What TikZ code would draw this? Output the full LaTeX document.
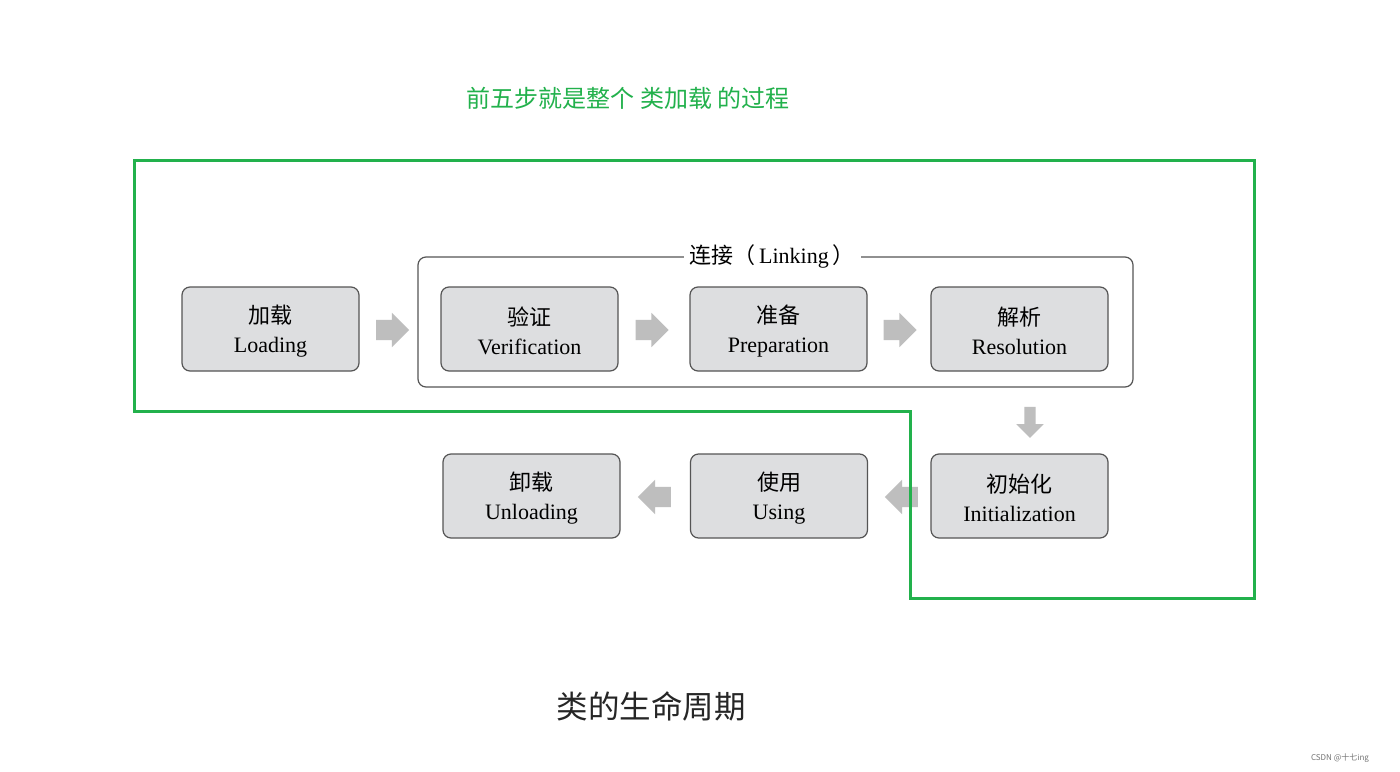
\documentclass[tikz,border=0pt]{standalone}
\usepackage{fontspec}
\setmainfont{Liberation Serif}
\newfontfamily\cjk{Noto Sans CJK SC}
\usetikzlibrary{shapes.arrows}
\definecolor{boxfill}{RGB}{221,222,224}
\definecolor{boxline}{RGB}{85,85,85}
\definecolor{arrowgray}{RGB}{190,190,190}
\definecolor{mygreen}{RGB}{34,177,76}
\newcommand{\zh}[1]{{\cjk #1}\rule{0pt}{23pt}}
\tikzset{
  box/.style={draw=boxline, fill=boxfill, rounded corners=8pt, line width=1.2pt,
    minimum width=177pt, minimum height=84pt, align=center, inner sep=0pt,
    font=\fontsize{22}{29}\selectfont},
  blockarrow/.style={single arrow, fill=arrowgray, draw=none, inner xsep=0pt, inner ysep=10pt,
    minimum height=33pt, single arrow head extend=7pt,
    single arrow tip angle=90, single arrow head indent=0pt},
  downarrow/.style={single arrow, fill=arrowgray, draw=none, inner xsep=5.5pt, inner ysep=0pt,
    minimum height=31pt, single arrow head extend=8pt, shape border rotate=270,
    single arrow tip angle=90, single arrow head indent=0pt},
  greenline/.style={draw=mygreen, line width=3pt, line join=miter},
}
\begin{document}
\begin{tikzpicture}[x=1pt,y=-1pt]
\useasboundingbox[fill=white] (0,0) rectangle (1400,771);
% linking frame
\node[draw=boxline, line width=1.2pt, rounded corners=8pt, minimum width=715pt, minimum height=130pt, inner sep=0pt] (link) at (775.5,322) {};
\node[fill=white, inner sep=6pt, font=\fontsize{22}{25}\selectfont] (linklabel) at (772,256) {{\cjk 连接（}\,Linking\,{\cjk ）}};
% boxes
\node[box] (load) at (270.5,329) {\zh{加载}\\Loading};
\node[box] (ver) at (529.5,329) {\zh{验证}\\Verification};
\node[box] (prep) at (778.5,329) {\zh{准备}\\Preparation};
\node[box] (res) at (1019.5,329) {\zh{解析}\\Resolution};
\node[box] (init) at (1019.5,496) {\zh{初始化}\\Initialization};
\node[box] (use) at (779,496) {\zh{使用}\\Using};
\node[box] (unload) at (531.5,496) {\zh{卸载}\\Unloading};
% block arrows
\node[blockarrow] (a1) at (387.5,330) {};
\node[blockarrow] (a2) at (647,330) {};
\node[blockarrow] (a3) at (895,330) {};
\node[downarrow] (a4) at (1030,419.5) {};
\node[blockarrow, shape border rotate=180] (a5) at (906.5,497) {};
\node[blockarrow, shape border rotate=180] (a6) at (659.5,497) {};
% green outline
\draw[greenline] (134,160) -| (1254,598) -| (910,411) -| cycle;
% texts
\node[text=mygreen, font=\cjk\fontsize{24}{28}\selectfont] (title) at (628,98) {前五步就是整个 类加载 的过程};
\node[text=black!85, font=\cjk\fontsize{31.5}{36}\selectfont] (caption) at (651,706) {类的生命周期};
\node[text=black!55, font=\cjk\fontsize{8}{10}\selectfont] (mark) at (1340,758) {CSDN @十七ing};
\end{tikzpicture}
\end{document}
